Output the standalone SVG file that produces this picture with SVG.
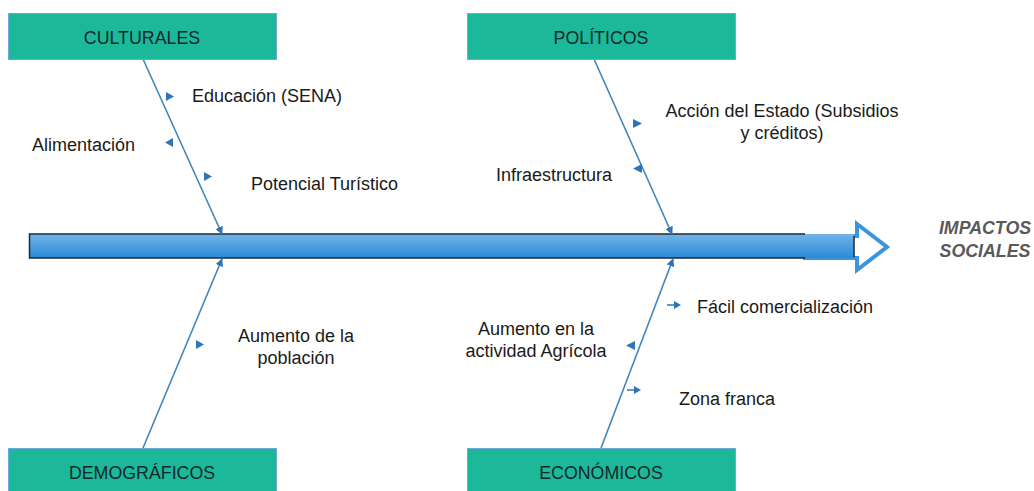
<svg xmlns="http://www.w3.org/2000/svg" width="1034" height="491" viewBox="0 0 1034 491">
<defs>
<linearGradient id="bar" x1="0" y1="0" x2="0" y2="1">
<stop offset="0" stop-color="#72b4ea"/>
<stop offset="1" stop-color="#2a8ad6"/>
</linearGradient>
<marker id="ah" viewBox="0 0 10 10" refX="9" refY="5" markerWidth="5" markerHeight="5" orient="auto-start-reverse">
<path d="M0,0 L10,5 L0,10 Z" fill="#2e75b6"/>
</marker>
</defs>
<style>
.box{fill:#1bb99a;stroke:#6fa8dc;stroke-width:1}
.bl{font-family:"Liberation Sans",Arial,sans-serif;font-size:17.8px;fill:#14282a;text-anchor:middle}
.t{font-family:"Liberation Sans",Arial,sans-serif;font-size:18px;fill:#1a1a1a}
.c{text-anchor:middle}
.bone{stroke:#3f86bd;stroke-width:1.6;fill:none}
.tri{fill:#2e75b6}
.imp{font-family:"Liberation Sans",Arial,sans-serif;font-size:17.8px;font-weight:bold;font-style:italic;fill:#5a5a5a;text-anchor:middle}
</style>
<rect width="1034" height="491" fill="#ffffff"/>

<g id="spine">
<path d="M805,236 H857 V224 L887,247 L857,270 V258 H805 Z" fill="#ffffff" stroke="#3a95dc" stroke-width="4" stroke-linejoin="miter"/>
<rect x="29" y="234" width="825" height="24" fill="url(#bar)"/>
<path d="M805,234 H29.5 V258 H805" fill="none" stroke="#1f2a33" stroke-width="1.5"/>
<line x1="854" y1="236" x2="854" y2="257" stroke="#1f2a33" stroke-width="1.5"/>
</g>

<g id="impactos">
<text class="imp" x="985" y="234">IMPACTOS</text>
<text class="imp" x="985" y="257">SOCIALES</text>
</g>

<g id="connectors">
<line class="bone" x1="143" y1="59" x2="222" y2="234" marker-end="url(#ah)"/>
<line class="bone" x1="594" y1="59" x2="672" y2="234" marker-end="url(#ah)"/>
<line class="bone" x1="143" y1="448" x2="222" y2="259" marker-end="url(#ah)"/>
<line class="bone" x1="601" y1="448" x2="673" y2="259" marker-end="url(#ah)"/>
<path class="tri" d="M166,92 L174,96.5 L166,101 Z"/>
<path class="tri" d="M173,138 L165,142.5 L173,147 Z"/>
<path class="tri" d="M204,172 L212,176.5 L204,181 Z"/>
<path class="tri" d="M633,119 L642,123.5 L633,128 Z"/>
<path class="tri" d="M642,164 L633,168.5 L642,173 Z"/>
<path class="tri" d="M196,340 L204,344.5 L196,349 Z"/>
<line x1="667" y1="305" x2="676" y2="305" stroke="#2e75b6" stroke-width="1.5"/>
<path class="tri" d="M674,301 L681,305 L674,309 Z"/>
<path class="tri" d="M635,341 L626,345.5 L635,350 Z"/>
<line x1="627" y1="390" x2="636" y2="390" stroke="#2e75b6" stroke-width="1.5"/>
<path class="tri" d="M634,386 L641,390 L634,394 Z"/>
</g>

<g id="culturales">
<rect class="box" x="8.5" y="13.5" width="268" height="46"/>
<text class="bl" x="142" y="44">CULTURALES</text>
</g>
<g id="politicos">
<rect class="box" x="467.5" y="13.5" width="268" height="46"/>
<text class="bl" x="601" y="44">POLÍTICOS</text>
</g>
<g id="demograficos">
<rect class="box" x="8.5" y="448.5" width="268" height="46"/>
<text class="bl" x="142" y="479">DEMOGRÁFICOS</text>
</g>
<g id="economicos">
<rect class="box" x="467.5" y="448.5" width="268" height="46"/>
<text class="bl" x="601" y="479">ECONÓMICOS</text>
</g>

<g id="labels">
<text class="t" x="192" y="102">Educación (SENA)</text>
<text class="t" x="32" y="151">Alimentación</text>
<text class="t" x="251" y="190">Potencial Turístico</text>
<text class="t c" x="782" y="117">Acción del Estado (Subsidios</text>
<text class="t c" x="782" y="139">y créditos)</text>
<text class="t" x="496" y="181">Infraestructura</text>
<text class="t c" x="296" y="342">Aumento de la</text>
<text class="t c" x="296" y="364">población</text>
<text class="t" x="697" y="313">Fácil comercialización</text>
<text class="t c" x="536" y="335">Aumento en la</text>
<text class="t c" x="536" y="357">actividad Agrícola</text>
<text class="t" x="679" y="405">Zona franca</text>
</g>
</svg>
